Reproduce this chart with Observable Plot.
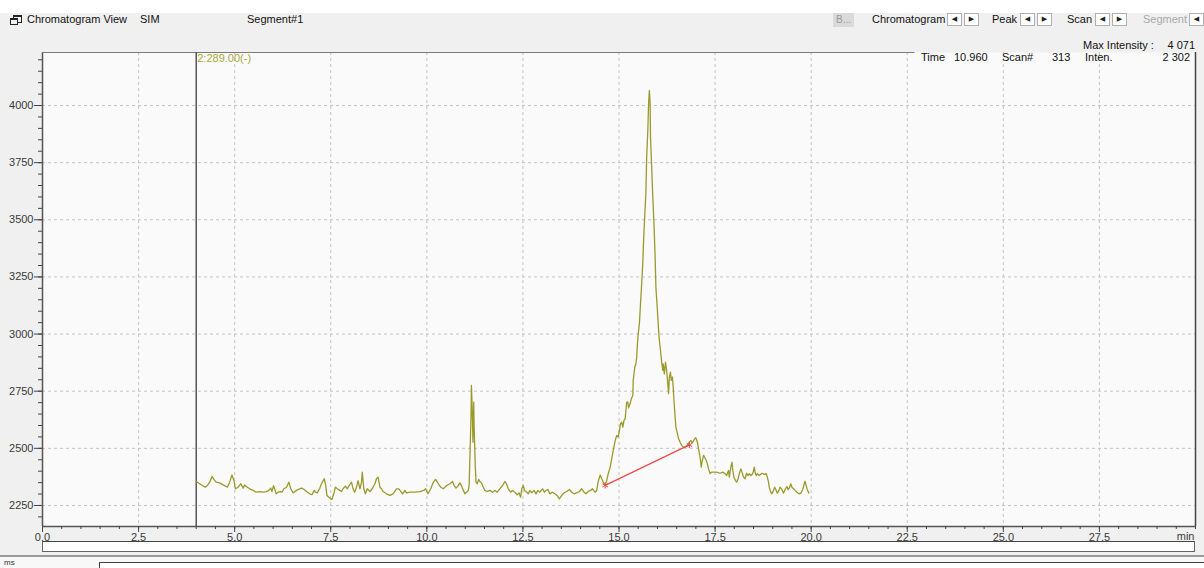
<!DOCTYPE html>
<html><head><meta charset="utf-8">
<script src="https://cdn.jsdelivr.net/npm/d3@7"></script>
<script src="https://cdn.jsdelivr.net/npm/@observablehq/plot@0.6"></script>
<style>
html,body{margin:0;padding:0;background:#f0f0f0;}
#wrap{position:relative;width:1204px;height:568px;overflow:hidden;font-family:"Liberation Sans",Arial,sans-serif;font-size:11px;color:#111;background:#f0f0f0;}
#wrap svg{position:absolute;left:0;top:0;}
.abs{position:absolute;white-space:nowrap;line-height:12px;}
.btn{position:absolute;width:15px;height:13px;background:#fdfdfd;border:1px solid #b0b0b0;box-sizing:border-box;font-family:"DejaVu Sans",sans-serif;font-size:7px;text-align:center;line-height:11px;color:#222;}
</style></head><body><div id="wrap"></div>
<script>
// ---- data ----
const times = [4.00,4.09,4.18,4.24,4.29,4.35,4.41,4.46,4.52,4.61,4.70,4.76,4.81,4.87,4.93,4.98,5.02,5.09,5.16,5.22,5.26,5.33,5.39,5.48,5.56,5.65,5.74,5.82,5.89,5.94,5.97,6.01,6.04,6.08,6.13,6.20,6.23,6.28,6.35,6.41,6.46,6.52,6.61,6.69,6.74,6.81,6.87,6.95,7.01,7.07,7.10,7.15,7.21,7.27,7.33,7.37,7.40,7.45,7.50,7.53,7.59,7.62,7.67,7.73,7.78,7.82,7.88,7.93,7.99,8.04,8.08,8.12,8.17,8.21,8.26,8.30,8.32,8.36,8.40,8.45,8.52,8.58,8.65,8.69,8.73,8.78,8.82,8.86,8.95,9.04,9.12,9.21,9.27,
9.37,9.43,9.47,9.56,9.69,9.82,9.92,9.97,10.03,10.10,10.17,10.23,10.30,10.36,10.43,10.51,10.60,10.67,10.71,10.76,10.82,10.86,10.90,10.95,10.99,11.03,11.08,11.10,11.12,11.15,11.16,11.18,11.20,11.22,11.23,11.26,11.28,11.31,11.35,11.38,11.42,11.47,11.51,11.57,11.64,11.71,11.77,11.83,11.90,11.97,12.03,12.07,12.12,12.18,12.23,12.29,12.35,12.40,12.44,12.47,12.51,12.54,12.60,12.64,12.68,12.73,12.79,12.84,12.89,12.94,13.01,13.06,13.10,13.15,13.20,13.27,13.33,13.39,13.45,13.51,13.57,13.64,13.71,13.77,13.83,13.90,13.97,14.03,14.09,14.14,14.20,14.26,14.31,14.38,14.42,14.46,14.51,14.55,14.59,14.64,
14.68,14.72,14.77,14.81,14.85,14.90,14.94,14.98,15.01,15.04,15.07,15.10,15.13,15.16,15.18,15.20,15.23,15.25,15.29,15.32,15.36,15.37,15.41,15.44,15.46,15.48,15.50,15.53,15.56,15.59,15.62,15.64,15.67,15.70,15.72,15.75,15.77,15.79,15.81,15.82,15.85,15.88,15.91,15.94,15.96,16.00,16.03,16.05,16.08,16.11,16.14,16.15,16.18,16.21,16.24,16.27,16.29,16.31,16.34,16.36,16.39,16.41,16.43,16.46,16.48,16.52,16.55,16.59,16.63,16.68,16.72,16.78,16.83,16.87,16.90,16.94,16.97,17.00,17.04,17.07,17.11,17.14,17.16,17.20,17.23,17.27,17.30,17.33,17.37,17.41,17.46,17.54,17.63,17.70,17.76,17.80,17.85,17.87,17.91,17.94,17.96,17.99,18.03,18.06,18.10,18.13,18.17,18.20,18.24,18.28,18.32,18.36,18.39,18.43,18.48,18.52,18.54,18.57,18.60,18.65,18.72,18.78,18.83,18.86,18.89,18.91,18.95,18.98,19.02,19.05,19.09,19.12,19.16,19.19,19.24,19.28,19.32,19.37,19.40,19.44,19.47,19.50,19.54,19.58,19.63,19.68,19.73,19.78,19.82,19.84,19.87,19.90,19.94];
const intensities = [2355,2345,2335,2330,2337,2352,2377,2364,2352,2349,2340,2335,2330,2352,2384,2359,2323,2330,2345,2326,2340,2330,2323,2316,2308,2311,2308,2311,2316,2326,2311,2337,2323,2301,2308,2311,2308,2323,2330,2352,2323,2305,2316,2323,2326,2320,2311,2301,2297,2316,2308,2305,2323,2349,2367,2337,2294,2286,2279,2276,2308,2330,2323,2316,2311,2323,2335,2323,2340,2352,2323,2308,2330,2359,2323,2352,2396,2323,2301,2323,2311,2323,2345,2367,2374,2330,2323,2311,2301,2294,2301,2323,2323,
2301,2316,2305,2308,2308,2311,2316,2323,2301,2323,2352,2364,2345,2330,2323,2337,2345,2355,2337,2326,2337,2349,2337,2316,2301,2308,2316,2337,2454,2644,2775,2673,2527,2702,2600,2425,2352,2345,2364,2355,2349,2330,2316,2311,2316,2308,2316,2308,2323,2337,2355,2345,2323,2308,2316,2308,2297,2305,2286,2323,2337,2316,2308,2301,2316,2305,2316,2301,2316,2308,2323,2308,2316,2320,2301,2308,2301,2294,2279,2294,2305,2311,2320,2308,2301,2305,2311,2323,2308,2301,2311,2316,2323,2308,2316,2355,2384,2367,2352,2337,
2359,2389,2418,2454,2491,2534,2556,2549,2578,2607,2615,2593,2622,2629,2666,2702,2702,2677,2695,2717,2731,2797,2855,2870,2899,2957,3001,3045,3133,3220,3315,3410,3519,3621,3774,3891,4008,4066,4008,3862,3730,3599,3483,3337,3205,3103,3016,2972,2928,2877,2841,2870,2826,2877,2841,2782,2739,2812,2833,2797,2812,2768,2709,2637,2593,2564,2542,2527,2513,2505,2505,2513,2527,2534,2523,2534,2542,2546,2527,2498,2461,2418,2440,2469,2461,2447,2432,2410,2389,2396,2396,2396,2391,2396,2389,2381,2403,2374,2418,2440,2403,2374,2359,2352,2367,2389,2410,2396,2374,2367,2391,2381,2389,2381,2389,2418,2396,2381,2389,2381,2391,2386,2389,2374,2352,2330,2308,2301,2316,2330,2316,2304,2316,2330,2319,2304,2319,2333,2319,2330,2345,2330,2323,2316,2308,2301,2304,2319,2345,2356,2337,2319,2304];
const baselineTimes = [14.64, 16.83];
const baselineIntensities = [2338, 2515];
const markerTime = [4.0];
const markerLabel = ["2:289.00(-)"];
const xMajorTicks = [0, 2.5, 5, 7.5, 10, 12.5, 15, 17.5, 20, 22.5, 25, 27.5];
const yMajorTicks = [2250, 2500, 2750, 3000, 3250, 3500, 3750, 4000];
const xUnit = "min";
const xDomain = [0, 30];
const yDomain = [2158, 4232];

const trace = times.map((t, i) => ({t, v: intensities[i]}));
const baseline = baselineTimes.map((t, i) => ({t, v: baselineIntensities[i]}));
const xMinorTicks = d3.range(0, 30.001, 0.5);
const yMinorTicks = d3.range(2200, 4201, 50);

const chart = Plot.plot({
  width: 1204, height: 568,
  marginTop: 52, marginBottom: 42, marginLeft: 42, marginRight: 9,
  style: {background: "transparent", fontFamily: "Liberation Sans, Arial, sans-serif", fontSize: "11px"},
  x: {domain: xDomain, label: null},
  y: {domain: yDomain, label: null},
  marks: [
    Plot.frame({fill: "#fafafa", stroke: null}),
    Plot.gridX(xMajorTicks.filter(d => d > 0), {stroke: "#c2c2c2", strokeOpacity: 1, strokeDasharray: "3,3"}),
    Plot.gridY(yMajorTicks, {stroke: "#c2c2c2", strokeOpacity: 1, strokeDasharray: "3,3"}),
    Plot.ruleX([xDomain[0]], {stroke: "#555", strokeWidth: 1.5}),
    Plot.ruleX([xDomain[1]], {stroke: "#444", strokeWidth: 1.5}),
    Plot.ruleY([yDomain[0]], {stroke: "#555", strokeWidth: 1.5}),
    Plot.ruleY([yDomain[1]], {x1: 0, x2: 22.7, stroke: "#7a7a7a"}),
    Plot.axisY({ticks: yMinorTicks, tickSize: 4, text: null, stroke: "#444"}),
    Plot.axisY({ticks: yMajorTicks, tickSize: 8, tickPadding: 1, tickFormat: "d", stroke: "#444", fill: "#3a3a3a"}),
    Plot.axisX({ticks: xMinorTicks, tickSize: 3, text: null, stroke: "#444"}),
    Plot.axisX({ticks: xMajorTicks, tickSize: 6, tickPadding: 1, tickFormat: d => d.toFixed(1), stroke: "#444", fill: "#3a3a3a"}),
    Plot.ruleX(markerTime, {stroke: "#555", strokeWidth: 1.5}),
    Plot.text(markerLabel, {x: markerTime[0], y: yDomain[1], dx: 1, dy: 6, textAnchor: "start", fill: "#a8a83a", fontSize: 11}),
    Plot.line(trace, {x: "t", y: "v", stroke: "#9a9a2c", strokeWidth: 1.3}),
    Plot.line(baseline, {x: "t", y: "v", stroke: "#f04848", strokeWidth: 1.2}),
    Plot.dot(baseline, {x: "t", y: "v", symbol: "asterisk", r: 3, stroke: "#f04848", strokeWidth: 1}),
    Plot.text([xUnit], {x: xDomain[1], y: yDomain[0], dx: -1, dy: 10, textAnchor: "end", fill: "#3a3a3a", fontSize: 11})
  ]
});

const wrap = document.getElementById("wrap");
wrap.innerHTML = `
<div style="position:absolute;left:0;top:0;width:1204px;height:13px;background:#fff"></div>
<div style="position:absolute;left:13px;top:15px;width:7px;height:5px;border:1px solid #222;border-top-width:2px"></div>
<div style="position:absolute;left:10px;top:18px;width:6px;height:4px;border:1px solid #222;border-top-width:2px;background:#f0f0f0"></div>
<div class="abs" style="left:27px;top:13px">Chromatogram View</div>
<div class="abs" style="left:140px;top:13px">SIM</div>
<div class="abs" style="left:247px;top:13px">Segment#1</div>
<div style="position:absolute;left:833px;top:13px;width:21px;height:14px;background:#dadada;color:#9a9a9a;font-size:10px;line-height:14px;text-align:center">B...</div>
<div class="abs" style="left:872px;top:13px">Chromatogram</div>
<div class="btn" style="left:947px;top:13px">◀</div><div class="btn" style="left:964px;top:13px">▶</div>
<div class="abs" style="left:992px;top:13px">Peak</div>
<div class="btn" style="left:1020px;top:13px">◀</div><div class="btn" style="left:1037px;top:13px">▶</div>
<div class="abs" style="left:1067px;top:13px">Scan</div>
<div class="btn" style="left:1095px;top:13px">◀</div><div class="btn" style="left:1112px;top:13px">▶</div>
<div class="abs" style="left:1143px;top:13px;color:#a8a8a8">Segment</div>
<div class="btn" style="left:1189px;top:13px">◀</div>
<div class="abs" style="left:1083px;top:39px">Max Intensity :</div>
<div class="abs" style="right:9px;top:39px;text-align:right">4 071</div>
<div class="abs" style="left:921px;top:51px">Time</div>
<div class="abs" style="left:954px;top:51px">10.960</div>
<div class="abs" style="left:1002px;top:51px">Scan#</div>
<div class="abs" style="left:1052px;top:51px">313</div>
<div class="abs" style="left:1085px;top:51px">Inten.</div>
<div class="abs" style="right:14px;top:51px;text-align:right">2 302</div>
<div style="position:absolute;left:42px;top:541px;width:1153px;height:11px;background:#fff;border:1px solid #666;border-top-color:#444;box-sizing:border-box"></div>
<div style="position:absolute;left:0;top:555px;width:1204px;height:13px;background:#f8f8f8;border-top:2px solid #9a9a9a;box-sizing:border-box"></div>
<div style="position:absolute;left:99px;top:562px;width:1110px;height:10px;background:#fff;border:1px solid #444;box-sizing:border-box"></div>
<div class="abs" style="left:4px;top:558px;font-size:8px;line-height:9px;color:#333">ms</div>
`;
wrap.insertBefore(chart, wrap.firstChild);
</script></body></html>
